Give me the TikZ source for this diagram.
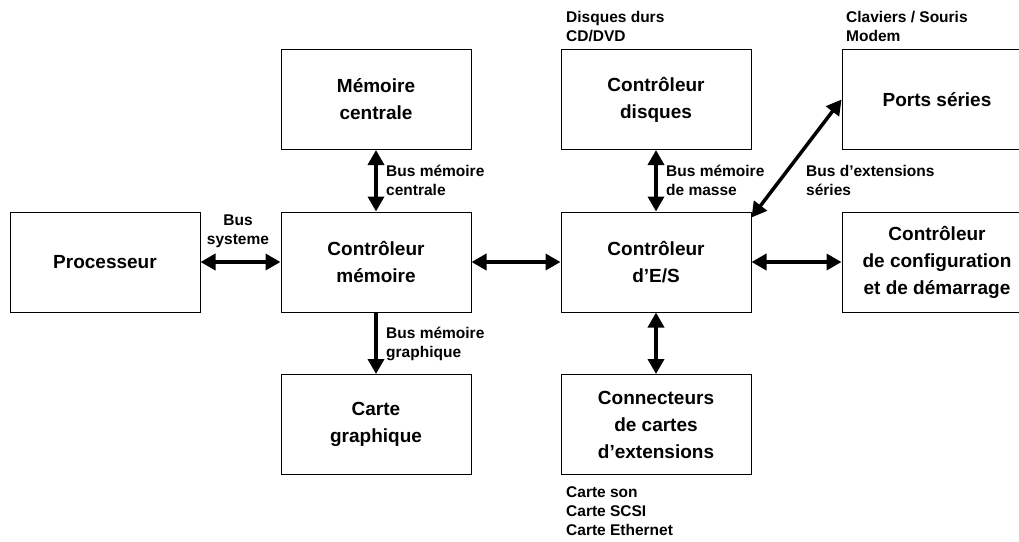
\documentclass[tikz,border=0pt]{standalone}
\usepackage{fontspec}
\setmainfont{Liberation Sans}
\usetikzlibrary{arrows.meta}
\tikzset{
  box/.style={draw, line width=1pt, minimum width=190pt, minimum height=100pt, inner sep=0pt,
    align=center, font=\bfseries\fontsize{19}{27}\selectfont},
  lbl/.style={inner sep=0pt, align=left, anchor=north west, font=\bfseries\fontsize{15.5}{19}\selectfont},
  bus/.style={line width=3.5pt, {Triangle[length=15pt,width=16pt]}-{Triangle[length=15pt,width=16pt]}},
  bus1/.style={line width=3.5pt, -{Triangle[length=15pt,width=16pt]}}
}
\begin{document}
\begin{tikzpicture}[x=1pt,y=-1pt]
\useasboundingbox (0,0) rectangle (1019,541);
\node[box] (proc) at (105,262) {Processeur};
\node[box] (memc) at (376,99.5) {Mémoire\\centrale};
\node[box] (ctrlm) at (376,262) {Contrôleur\\mémoire};
\node[box] (cg) at (376,424.5) {Carte\\graphique};
\node[box] (ctrld) at (656,99.5) {Contrôleur\\disques};
\node[box] (es) at (656,262) {Contrôleur\\d’E/S};
\node[box] (conn) at (656,424.5) {Connecteurs\\de cartes\\d’extensions};
\node[box] (ports) at (937,99.5) {Ports séries};
\node[box] (config) at (937,262) {Contrôleur\\de configuration\\et de démarrage};

\draw[bus] (proc.east) -- (ctrlm.west);
\draw[bus] (memc.south) -- (ctrlm.north);
\draw[bus1] (ctrlm.south) -- (cg.north);
\draw[bus] (ctrlm.east) -- (es.west);
\draw[bus] (ctrld.south) -- (es.north);
\draw[bus] (es.south) -- (conn.north);
\draw[bus] (es.east) -- (config.west);
\draw[bus] ([yshift=-6pt]es.north east) -- (ports.west);

\node[lbl, align=center, anchor=north] (lsys) at (238,215) {Bus\\systeme};
\node[lbl] (lmc) at (386,165) {Bus mémoire\\centrale};
\node[lbl] (lmg) at (386,327) {Bus mémoire\\graphique};
\node[lbl] (lmm) at (666,165) {Bus mémoire\\de masse};
\node[lbl] (lext) at (806,165) {Bus d’extensions\\séries};
\node[lbl] (ldd) at (566,11) {Disques durs\\CD/DVD};
\node[lbl] (lcs) at (846,11) {Claviers / Souris\\Modem};
\node[lbl] (lcar) at (566,486) {Carte son\\Carte SCSI\\Carte Ethernet};
\end{tikzpicture}
\end{document}
